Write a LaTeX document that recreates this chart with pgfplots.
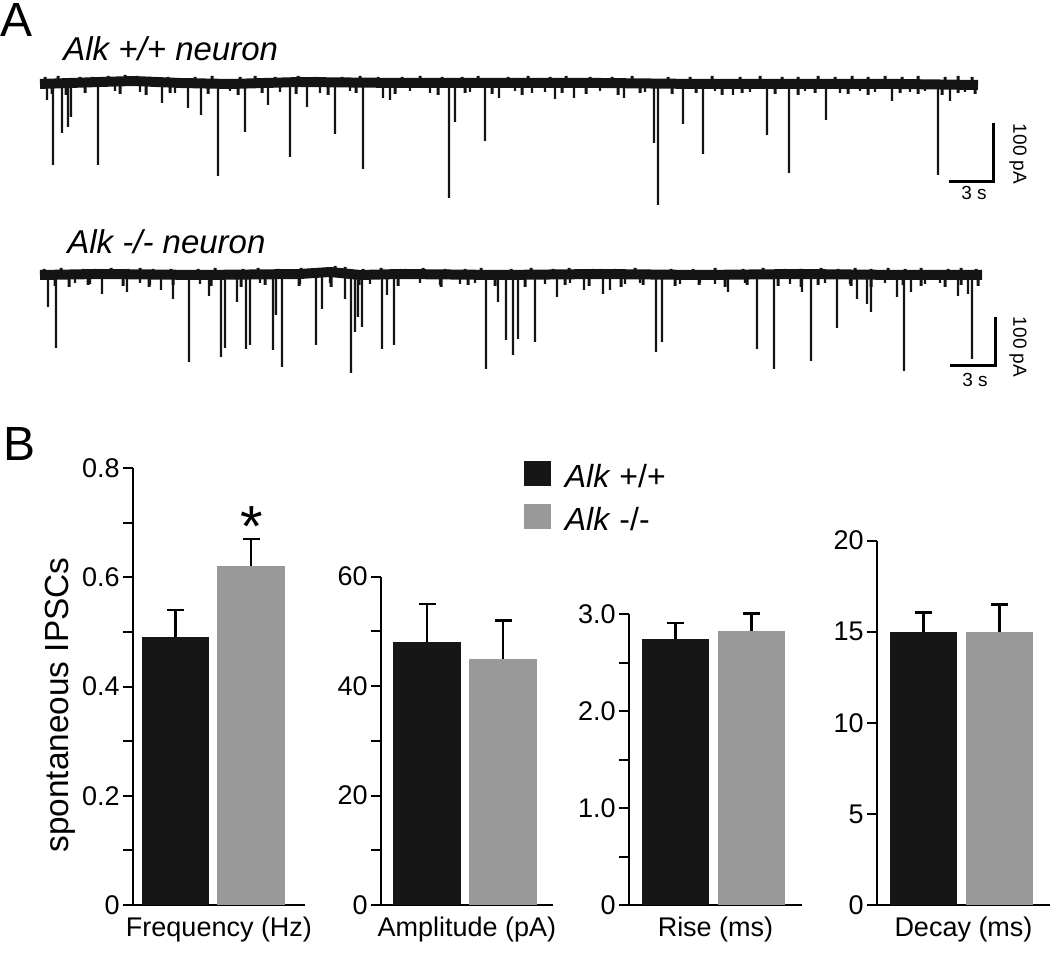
\documentclass[border=0pt]{standalone}
\usepackage{pgfplots}
\pgfplotsset{compat=1.18}
\usepackage{fontspec}
\setmainfont{Liberation Sans}
\definecolor{barblack}{HTML}{161616}
\definecolor{bargray}{HTML}{999999}
\definecolor{tracecol}{HTML}{141414}

\pgfplotsset{
  barax/.style={scale only axis, anchor=south west, axis lines=left,
    axis line style={line width=1pt,-}, xtick=\empty, tick align=outside,
    tick pos=left, major tick length=5pt, minor tick length=5pt,
    every tick/.append style={black, line width=1pt}, clip=false,
    yticklabel style={font=\fontsize{13.5}{16}\selectfont, inner sep=1.5pt},
    /pgf/number format/assume math mode=true,
    xlabel style={at={(axis description cs:0.5,0)}, anchor=north, inner sep=0pt,
      yshift=-5.8pt, font=\fontsize{13.5}{16}\selectfont}},
  trace/.style={scale only axis, width=525pt, height=82.5pt, xmin=0, xmax=1050,
    ymin=-15, ymax=150, y dir=reverse, hide axis, anchor=north west, clip=false},
  spikes/.style={ybar, bar shift=0pt, bar width=2.4, fill=tracecol, draw=none},
  noise/.style={ybar, bar shift=0pt, bar width=3, fill=tracecol, draw=none},
  base/.style={tracecol, line width=5pt, line join=round, line cap=butt},
  sbar/.style={black, line width=1.5pt, line join=miter},
  mybar/.style={ybar, bar shift=0pt, bar width=67.5, fill=#1, draw=none, forget plot,
    error bars/.cd, y dir=plus, y explicit, error mark=|,
    error bar style={line width=1.3pt, black},
    error mark options={line width=1.3pt, mark size=4.25pt, black}},
}

\begin{document}
\begin{tikzpicture}
\useasboundingbox (0,0) rectangle (525pt,484.5pt);

% ---------- Panel A, top trace (x: px, y: depth below baseline in px) ----------
\begin{axis}[trace, at={(0pt,450.5pt)}]
\addplot[base] coordinates {(40,1) (100,-1) (133,-2) (180,0) (230,1) (300,-1) (400,0)
 (500,0) (600,0) (700,1) (800,1) (900,1) (978,2)};
\addplot[noise] coordinates {(45,-6) (58,-7) (80,-6) (92,-6) (108,-7) (125,-8) (137,-7)
 (150,-6) (168,-6) (195,-6) (212,-7) (240,-6) (255,-7) (275,-6) (298,-7) (315,-6) (342,-6)
 (360,-7) (378,-6) (402,-6) (420,-7) (442,-6) (462,-6) (478,-7) (508,-6) (528,-7) (550,-6)
 (566,-7) (590,-6) (612,-6) (632,-7) (668,-6) (690,-6) (712,-7) (740,-6) (760,-7) (782,-6)
 (798,-6) (818,-7) (835,-6) (852,-7) (868,-6) (885,-7) (902,-6) (918,-7) (945,-6) (958,-7)
 (972,-6)};
\addplot[noise] coordinates {(52,11) (66,12) (85,10) (120,11) (146,12) (170,10) (208,11)
 (238,12) (262,10) (296,11) (328,12) (356,10) (395,11) (438,12) (465,10) (492,11) (522,12)
 (562,10) (586,11) (618,12) (640,10) (672,11) (696,10) (722,12) (742,10) (775,11) (798,12)
 (815,10) (848,11) (868,12) (900,10) (918,11) (942,12) (958,10) (975,11)};
\addplot[spikes] coordinates {(47,17) (53,82) (62,50) (68,44) (71,34) (98,82) (115,8)
 (140,9) (162,20) (175,10) (188,25) (201,32) (218,93) (230,8) (245,49) (268,22) (280,9)
 (290,74) (307,24) (320,10) (335,51) (350,8) (363,86) (383,15) (390,17) (410,8) (430,10)
 (449,115) (455,39) (470,9) (485,58) (499,15) (515,8) (532,10) (545,9) (555,16) (574,15)
 (600,8) (624,15) (645,9) (654,60) (658,122) (683,41) (703,71) (715,8) (733,12) (750,9)
 (767,52) (789,90) (805,8) (826,37) (840,10) (860,8) (875,9) (892,18) (910,9) (925,8)
 (938,92) (950,18) (965,9)};
\addplot[sbar] coordinates {(949,98.7) (993,98.7) (993,39.7)};
\node[anchor=base west, inner sep=0pt, font=\fontsize{24}{27}\selectfont] at (axis cs:0,-46) {A};
\node[anchor=base west, inner sep=0pt, font=\fontsize{16.5}{19}\selectfont\itshape] at (axis cs:63,-22) {Alk +/+ neuron};
\node[rotate=-90, inner sep=0pt, font=\fontsize{9.5}{11}\selectfont] at (axis cs:1018,71) {100 pA};
\node[inner sep=0pt, font=\fontsize{9.5}{11}\selectfont] at (axis cs:974,109.5) {3 s};
\end{axis}

% ---------- Panel A, bottom trace ----------
\begin{axis}[trace, at={(0pt,354.5pt)}]
\addplot[base] coordinates {(40,0) (100,-1) (200,0) (300,-1) (330,-3) (360,0) (400,-1)
 (500,0) (600,-1) (700,0) (800,-1) (900,0) (982,0)};
\addplot[noise] coordinates {(44,-6) (61,-7) (83,-6) (95,-6) (111,-7) (128,-6) (140,-7)
 (153,-6) (171,-6) (198,-6) (215,-7) (243,-6) (258,-7) (278,-6) (301,-7) (318,-6) (335,-9)
 (345,-8) (363,-6) (381,-7) (405,-6) (423,-7) (445,-6) (465,-6) (481,-7) (511,-6) (531,-7)
 (553,-6) (569,-7) (593,-6) (615,-6) (635,-7) (671,-6) (693,-6) (715,-7) (743,-6) (763,-7)
 (785,-6) (801,-6) (821,-7) (838,-6) (855,-7) (871,-6) (888,-7) (905,-6) (921,-7) (948,-6)
 (961,-7) (976,-6)};
\addplot[noise] coordinates {(55,11) (69,12) (88,10) (123,11) (149,12) (173,10) (211,11)
 (241,12) (265,10) (299,11) (331,12) (359,10) (398,11) (441,12) (468,10) (495,11) (525,12)
 (565,10) (589,11) (621,12) (643,10) (675,11) (699,10) (725,12) (747,10) (778,11) (801,12)
 (818,10) (851,11) (871,12) (903,10) (921,11) (945,12) (961,10) (978,11)};
\addplot[spikes] coordinates {(48,32) (56,73) (75,8) (90,9) (102,19) (127,17) (140,8)
 (150,10) (161,15) (173,24) (189,87) (200,9) (209,21) (221,82) (225,73) (237,27) (246,74)
 (250,70) (260,8) (273,75) (276,40) (282,92) (300,9) (316,70) (322,34) (330,8) (345,24)
 (351,98) (355,57) (358,42) (362,52) (370,9) (382,74) (387,20) (394,70) (420,8) (440,10)
 (460,9) (475,8) (486,94) (498,27) (506,65) (513,80) (518,64) (535,67) (545,9) (557,22)
 (570,8) (584,15) (603,19) (610,15) (625,9) (640,8) (656,77) (662,67) (680,9) (700,8)
 (715,9) (728,17) (745,8) (757,74) (774,94) (790,9) (802,17) (811,86) (825,8) (837,53)
 (850,9) (857,24) (867,29) (871,37) (885,8) (897,22) (904,96) (911,17) (925,9) (940,8)
 (958,21) (968,19) (972,84)};
\addplot[sbar] coordinates {(950,91) (995,91) (995,41.7)};
\node[anchor=base west, inner sep=0pt, font=\fontsize{16.5}{19}\selectfont\itshape] at (axis cs:67,-21) {Alk -/- neuron};
\node[rotate=-90, inner sep=0pt, font=\fontsize{9.5}{11}\selectfont] at (axis cs:1018,72) {100 pA};
\node[inner sep=0pt, font=\fontsize{9.5}{11}\selectfont] at (axis cs:975,104.5) {3 s};
\end{axis}

% ---------- Panel B: Frequency ----------
\begin{axis}[barax, at={(66.5pt,32pt)}, width=86pt, height=218.5pt,
  xmin=133, xmax=305, ymin=0, ymax=0.8,
  ytick={0,0.2,0.4,0.6,0.8}, minor ytick={0.1,0.3,0.5,0.7},
  xlabel={Frequency (Hz)},
  ylabel={spontaneous IPSCs},
  ylabel style={at={(axis description cs:-0.424,0.4577)}, anchor=center,
    font=\fontsize{16.7}{19}\selectfont}]
\addplot[mybar=barblack] coordinates {(175.5,0.49) +- (0,0.05)};
\addplot[mybar=bargray] coordinates {(251,0.62) +- (0,0.05)};
\node[anchor=base, inner sep=0pt, font=\fontsize{29}{32}\selectfont] at (axis cs:252,0.657) {*};
\node[anchor=base west, inner sep=0pt, font=\fontsize{24}{28}\selectfont] at (axis cs:3,0.8146) {B};
\end{axis}

% ---------- Amplitude ----------
\begin{axis}[barax, at={(190.5pt,32pt)}, width=86pt, height=164.15pt,
  xmin=381, xmax=553, ymin=0, ymax=60,
  ytick={0,20,40,60}, minor ytick={10,30,50},
  xlabel={Amplitude (pA)},
  legend style={at={(axis description cs:0.8314,1.355)}, anchor=north west,
    draw=none, fill=none, inner sep=0pt, outer sep=0pt, row sep=4.5pt,
    font=\fontsize{16}{19}\selectfont},
  legend cell align=left]
\addplot[mybar=barblack] coordinates {(427,48) +- (0,7)};
\addplot[mybar=bargray] coordinates {(503,45) +- (0,7)};
\addlegendimage{legend image code/.code={\fill[barblack] (0pt,-4pt) rectangle (13pt,8pt); \path (18pt,0pt);}}
\addlegendentry{\textit{Alk} +/+}
\addlegendimage{legend image code/.code={\fill[bargray] (0pt,-4pt) rectangle (13pt,8pt); \path (18pt,0pt);}}
\addlegendentry{\textit{Alk} -/-}
\end{axis}

% ---------- Rise ----------
\begin{axis}[barax, at={(314.5pt,32pt)}, width=86.5pt, height=145.35pt,
  xmin=629, xmax=802, ymin=0, ymax=3,
  ytick={0,1,2,3}, yticklabels={0,1.0,2.0,3.0}, minor ytick={0.5,1.5,2.5},
  xlabel={Rise (ms)}]
\addplot[mybar=barblack] coordinates {(675.5,2.74) +- (0,0.17)};
\addplot[mybar=bargray] coordinates {(751.5,2.83) +- (0,0.18)};
\end{axis}

% ---------- Decay ----------
\begin{axis}[barax, at={(438.5pt,32pt)}, width=86.5pt, height=182.15pt,
  xmin=877, xmax=1050, ymin=0, ymax=20,
  ytick={0,5,10,15,20},
  xlabel={Decay (ms)}]
\addplot[mybar=barblack] coordinates {(923.5,15) +- (0,1.05)};
\addplot[mybar=bargray] coordinates {(999.5,15) +- (0,1.5)};
\end{axis}
\end{tikzpicture}
\end{document}
